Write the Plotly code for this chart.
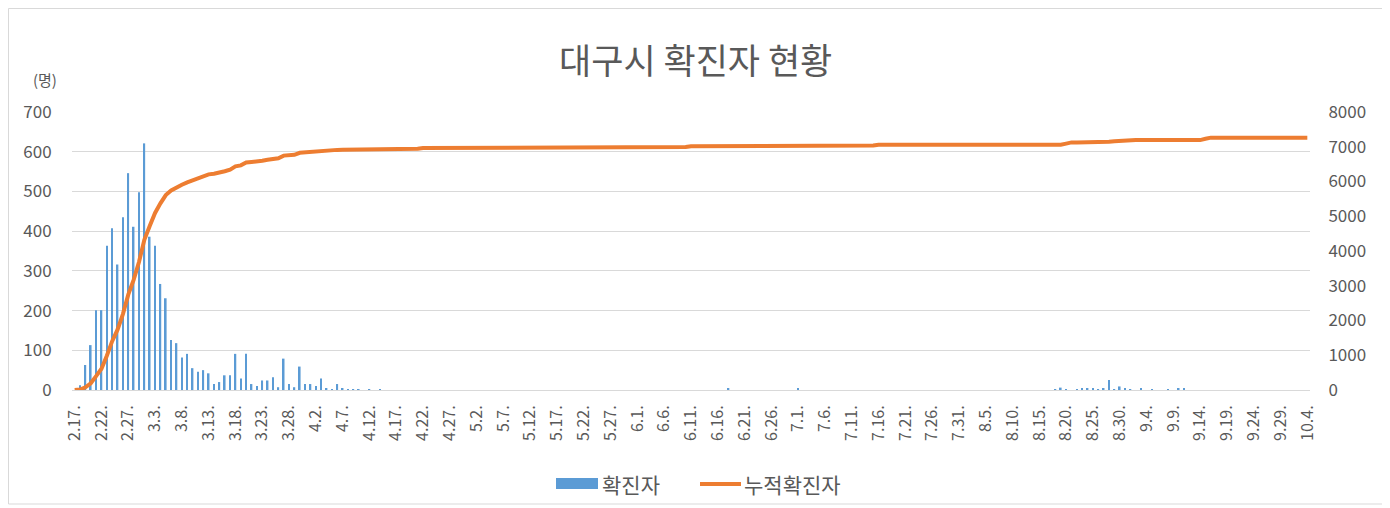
import pandas as pd
import plotly.graph_objects as go

# ---------------- data ----------------
dates = pd.date_range("2020-02-17", "2020-10-04", freq="D")
categories = [f"{d.month}.{d.day}." for d in dates]

tick_labels = ["2.17.", "2.22.", "2.27.", "3.3.", "3.8.", "3.13.", "3.18.", "3.23.", "3.28.",
               "4.2.", "4.7.", "4.12.", "4.17.", "4.22.", "4.27.", "5.2.", "5.7.", "5.12.",
               "5.17.", "5.22.", "5.27.", "6.1.", "6.6.", "6.11.", "6.16.", "6.21.", "6.26.",
               "7.1.", "7.6.", "7.11.", "7.16.", "7.21.", "7.26.", "7.31.", "8.5.", "8.10.",
               "8.15.", "8.20.", "8.25.", "8.30.", "9.4.", "9.9.", "9.14.", "9.19.", "9.24.",
               "9.29.", "10.4."]

daily_cases = [
    0, 12, 63, 113, 201, 201, 363, 407, 316, 435,
    546, 411, 498, 621, 386, 363, 267, 231, 126, 118,
    82, 91, 55, 46, 50, 42, 15, 20, 37, 37,
    91, 29, 91, 15, 10, 24, 24, 32, 7, 79,
    15, 7, 59, 15, 15, 10, 29, 5, 2, 15,
    3, 2, 1, 1, 0, 1, 0, 1, 0, 0,
    0, 0, 0, 0, 0, 0, 0, 0, 0, 0,
    0, 0, 0, 0, 0, 0, 0, 0, 0, 0,
    0, 0, 0, 0, 0, 0, 0, 0, 0, 0,
    0, 0, 0, 0, 0, 0, 0, 0, 0, 0,
    0, 0, 0, 0, 0, 0, 0, 0, 0, 0,
    0, 0, 0, 0, 0, 0, 0, 0, 0, 0,
    0, 0, 5, 0, 0, 0, 0, 0, 0, 0,
    0, 0, 0, 0, 0, 5, 0, 0, 0, 0,
    0, 0, 0, 0, 0, 0, 0, 0, 0, 0,
    0, 0, 0, 0, 0, 0, 0, 0, 0, 0,
    0, 0, 0, 0, 0, 0, 0, 0, 0, 0,
    0, 0, 0, 0, 0, 0, 0, 0, 0, 0,
    0, 0, 0, 1, 6, 1, 0, 1, 5, 5,
    5, 1, 5, 25, 2, 9, 4, 1, 0, 5,
    0, 1, 0, 0, 1, 0, 5, 5, 0, 0,
    0, 0, 0, 0, 0, 0, 0, 0, 0, 0,
    0, 0, 0, 0, 0, 0, 0, 0, 0, 0,
    0,
]

cumulative_cases = [
    0, 12, 78, 195, 400, 610, 985, 1405, 1735, 2185,
    2745, 3170, 3685, 4320, 4720, 5095, 5370, 5610, 5740, 5830,
    5905, 5975, 6040, 6100, 6160, 6205, 6225, 6250, 6295, 6340,
    6435, 6465, 6545, 6560, 6570, 6595, 6625, 6660, 6670, 6745,
    6760, 6768, 6825, 6840, 6853, 6862, 6890, 6895, 6897, 6910,
    6913, 6913, 6913, 6913, 6913, 6913, 6913, 6913, 6913, 6913,
    6913, 6913, 6913, 6913, 6940, 6965, 6965, 6965, 6965, 6965,
    6965, 6965, 6965, 6965, 6965, 6965, 6965, 6965, 6965, 6965,
    6965, 6965, 6965, 6965, 6965, 6965, 6965, 6965, 6965, 6965,
    6965, 6965, 6965, 6965, 6965, 6965, 6965, 6965, 6965, 6965,
    6965, 6965, 6965, 6965, 6965, 6965, 6965, 6965, 6965, 6965,
    6965, 6965, 6965, 6965, 6990, 7012, 7012, 7012, 7012, 7012,
    7012, 7012, 7012, 7012, 7012, 7012, 7012, 7012, 7012, 7012,
    7012, 7012, 7012, 7012, 7012, 7012, 7012, 7012, 7012, 7012,
    7012, 7012, 7012, 7012, 7012, 7012, 7012, 7012, 7012, 7035,
    7057, 7057, 7057, 7057, 7057, 7057, 7057, 7057, 7057, 7057,
    7057, 7057, 7057, 7057, 7057, 7057, 7057, 7057, 7057, 7057,
    7057, 7057, 7057, 7057, 7057, 7057, 7057, 7057, 7057, 7057,
    7057, 7057, 7057, 7057, 7057, 7090, 7125, 7125, 7125, 7125,
    7125, 7125, 7125, 7145, 7160, 7175, 7185, 7192, 7192, 7192,
    7192, 7192, 7192, 7192, 7192, 7192, 7192, 7192, 7192, 7192,
    7192, 7230, 7262, 7262, 7262, 7262, 7262, 7262, 7262, 7262,
    7262, 7262, 7262, 7262, 7262, 7262, 7262, 7262, 7262, 7262,
    7262,
]

title_text = "대구시 확진자 현황"
unit_text = "(명)"
series_names = ["확진자", "누적확진자"]

# ---------------- layout (screen pixels; page body has an 8px margin) ----------------
OFF = 8
W, H = 1390 - OFF, 508 - OFF
PLOT_X0, PLOT_X1 = 72, 1310      # screen x of plot area
PLOT_Y0, PLOT_Y1 = 112, 390      # screen y of plot area (top, bottom)
PW, PH = PLOT_X1 - PLOT_X0, PLOT_Y1 - PLOT_Y0
L, T = PLOT_X0 - OFF, PLOT_Y0 - OFF
R, B = W - L - PW, H - T - PH

FONT = "Noto Sans CJK KR"
GREY = "#595959"
GRID = "#d9d9d9"
BLUE = "#5B9BD5"
ORANGE = "#ED7D31"


def px(x):
    return (x - PLOT_X0) / PW


def py(y):
    return (PLOT_Y1 - y) / PH


fig = go.Figure()
fig.add_trace(go.Bar(x=categories, y=daily_cases, name=series_names[0],
                     marker=dict(color=BLUE, line=dict(width=0)), yaxis="y"))
fig.add_trace(go.Scatter(x=categories, y=cumulative_cases, name=series_names[1],
                         mode="lines", line=dict(color=ORANGE, width=4), yaxis="y2"))

fig.update_layout(
    width=W, height=H,
    margin=dict(l=L, r=R, t=T, b=B, pad=0),
    paper_bgcolor="white", plot_bgcolor="white",
    showlegend=False,
    bargap=0.7,
    font=dict(family=FONT, color=GREY),
    xaxis=dict(type="category", categoryorder="array", categoryarray=categories,
               range=[-0.5, len(categories) - 0.5],
               tickmode="array", tickvals=tick_labels, ticktext=tick_labels,
               tickangle=-90, tickfont=dict(family=FONT, size=16, color=GREY),
               ticks="outside", ticklen=8, tickcolor="rgba(0,0,0,0)",
               showgrid=False, showline=True, linecolor=GRID, linewidth=1,
               zeroline=False),
    yaxis=dict(range=[0, 700], dtick=100, showgrid=True, gridcolor=GRID, gridwidth=1,
               zeroline=False, showline=False,
               tickfont=dict(family=FONT, size=17, color=GREY),
               ticks="outside", ticklen=16, tickcolor="rgba(0,0,0,0)"),
    yaxis2=dict(range=[0, 8000], dtick=1000, overlaying="y", side="right",
                showgrid=False, zeroline=False, showline=False,
                tickfont=dict(family=FONT, size=17, color=GREY),
                ticks="outside", ticklen=14, tickcolor="rgba(0,0,0,0)"),
)

# title
fig.add_annotation(text=title_text, xref="paper", yref="paper", x=px(695), y=py(58),
                   showarrow=False, xanchor="center", yanchor="middle",
                   font=dict(family=FONT, size=35, color=GREY))

# unit label
fig.add_annotation(text=unit_text, xref="paper", yref="paper", x=px(45), y=py(79),
                   showarrow=False, xanchor="center", yanchor="middle",
                   font=dict(family=FONT, size=15, color=GREY))

# outer chart border
fig.add_shape(type="rect", xref="paper", yref="paper",
              x0=px(8.5), x1=px(1386), y0=py(504), y1=py(8.5),
              line=dict(color=GRID, width=1), fillcolor="rgba(0,0,0,0)", layer="below")

# legend (drawn)
fig.add_shape(type="rect", xref="paper", yref="paper",
              x0=px(556), x1=px(598), y0=py(489), y1=py(478),
              line=dict(width=0), fillcolor=BLUE)
fig.add_annotation(text=series_names[0], xref="paper", yref="paper", x=px(600), y=py(484),
                   showarrow=False, xanchor="left", yanchor="middle",
                   font=dict(family=FONT, size=21, color=GREY))
fig.add_shape(type="line", xref="paper", yref="paper",
              x0=px(700), x1=px(741), y0=py(484), y1=py(484),
              line=dict(color=ORANGE, width=4))
fig.add_annotation(text=series_names[1], xref="paper", yref="paper", x=px(742), y=py(484),
                   showarrow=False, xanchor="left", yanchor="middle",
                   font=dict(family=FONT, size=21, color=GREY))

fig.write_html("out.html")
